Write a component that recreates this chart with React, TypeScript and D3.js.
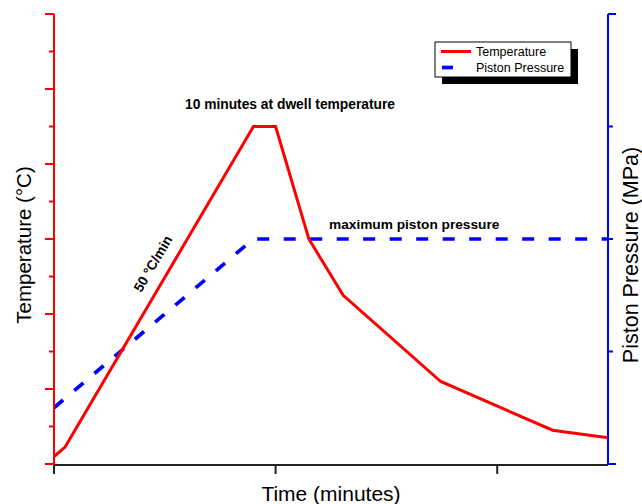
import React from 'react';
import * as d3 from 'd3';

// Data (time in minutes)
const tempTime = [0, 1, 18, 20, 23, 26.1, 34.9, 45, 50];
const temperatureC = [20, 45, 900, 900, 600, 450, 220, 90, 70];
const pressTime = [0, 18, 50];
const pressureMPa = [10, 40, 40];
const xTicks = [0, 20, 40];
const tempMajorTicks = [0, 200, 400, 600, 800, 1000, 1200];
const tempMinorTicks = [100, 300, 500, 700, 900, 1100];
const pressTicks = [0, 20, 40, 60, 80];

const FONT = '"Liberation Sans", Arial, Helvetica, sans-serif';

export default function App() {
  const left = 54, right = 608, top = 14, bottom = 464;
  const x = d3.scaleLinear().domain([0, 50]).range([left, right]);
  const yT = d3.scaleLinear().domain([0, 1200]).range([bottom, top]);
  const yP = d3.scaleLinear().domain([0, 80]).range([bottom, top]);

  const tempPts: [number, number][] = tempTime.map((t, i) => [t, temperatureC[i]]);
  const pressPts: [number, number][] = pressTime.map((t, i) => [t, pressureMPa[i]]);
  const tempLine = d3.line<[number, number]>().x(d => x(d[0])).y(d => yT(d[1]));
  const pressLine = d3.line<[number, number]>().x(d => x(d[0])).y(d => yP(d[1]));

  // slope angle of the ramp for the rotated annotation
  const ang = (Math.atan2(yT(900) - yT(45), x(18) - x(1)) * 180) / Math.PI;

  return (
    <svg width={642} height={504} style={{ position: 'absolute', left: 0, top: 0, background: '#fff' }}
      fontFamily={FONT}>
      <rect x={0} y={0} width={642} height={504} fill="#fff" />
      {/* data lines */}
      <path d={pressLine(pressPts) || ''} fill="none" stroke="#0000ff" strokeWidth={3.7}
        strokeDasharray="12,14.5" />
      <path d={tempLine(tempPts) || ''} fill="none" stroke="#ff0000" strokeWidth={3} strokeLinejoin="miter" />

      {/* x axis */}
      <line x1={left} x2={right} y1={bottom + 1} y2={bottom + 1} stroke="#222" strokeWidth={2} />
      {xTicks.map(t => (
        <line key={'xt' + t} x1={x(t)} x2={x(t)} y1={bottom + 1} y2={bottom + 10} stroke="#222" strokeWidth={2} />
      ))}

      {/* left axis (temperature) */}
      <line x1={left} x2={left} y1={top} y2={bottom + 1} stroke="#ff0000" strokeWidth={2} />
      {tempMajorTicks.map(t => (
        <line key={'tm' + t} x1={left - 9} x2={left} y1={yT(t)} y2={yT(t)} stroke="#ff0000" strokeWidth={2} />
      ))}
      {tempMinorTicks.map(t => (
        <line key={'tn' + t} x1={left - 5} x2={left} y1={yT(t)} y2={yT(t)} stroke="#ff0000" strokeWidth={2} />
      ))}

      {/* right axis (pressure) */}
      <line x1={right} x2={right} y1={top} y2={bottom + 1} stroke="#0000ff" strokeWidth={2} />
      {pressTicks.map(p => {
        const end = p === 0 || p === 80;
        return (
          <line key={'pt' + p} x1={right} x2={right + (end ? 8 : 5)} y1={yP(p)} y2={yP(p)} stroke="#0000ff" strokeWidth={2} />
        );
      })}

      {/* axis titles */}
      <text x={331} y={501} textAnchor="middle" fontSize={21} fill="#000">Time (minutes)</text>
      <text transform={`translate(31,245) rotate(-90)`} textAnchor="middle" fontSize={20.5} fill="#000">
        Temperature (°C)
      </text>
      <text transform={`translate(638,255) rotate(-90)`} textAnchor="middle" fontSize={21.5} fill="#000">
        Piston Pressure (MPa)
      </text>

      {/* annotations */}
      <text x={290} y={109} textAnchor="middle" fontSize={13.8} fontWeight="bold" fill="#000">
        10 minutes at dwell temperature
      </text>
      <text x={329} y={229} fontSize={13.7} fontWeight="bold" fill="#000">maximum piston pressure</text>
      <text transform={`translate(157,266) rotate(${ang})`} textAnchor="middle" fontSize={13.7} fontWeight="bold" fill="#000">
        50 °C/min
      </text>

      {/* legend */}
      <rect x={442} y={49} width={136} height={35} fill="#000" />
      <rect x={435} y={42} width={136} height={35} fill="#fff" stroke="#000" strokeWidth={1} />
      <line x1={441} x2={471} y1={51.5} y2={51.5} stroke="#ff0000" strokeWidth={3} />
      <text x={476} y={56} fontSize={12.5} fill="#000">Temperature</text>
      <line x1={442} x2={453} y1={67.5} y2={67.5} stroke="#0000ff" strokeWidth={3.7} />
      <text x={476} y={72} fontSize={12.5} fill="#000">Piston Pressure</text>
    </svg>
  );
}
